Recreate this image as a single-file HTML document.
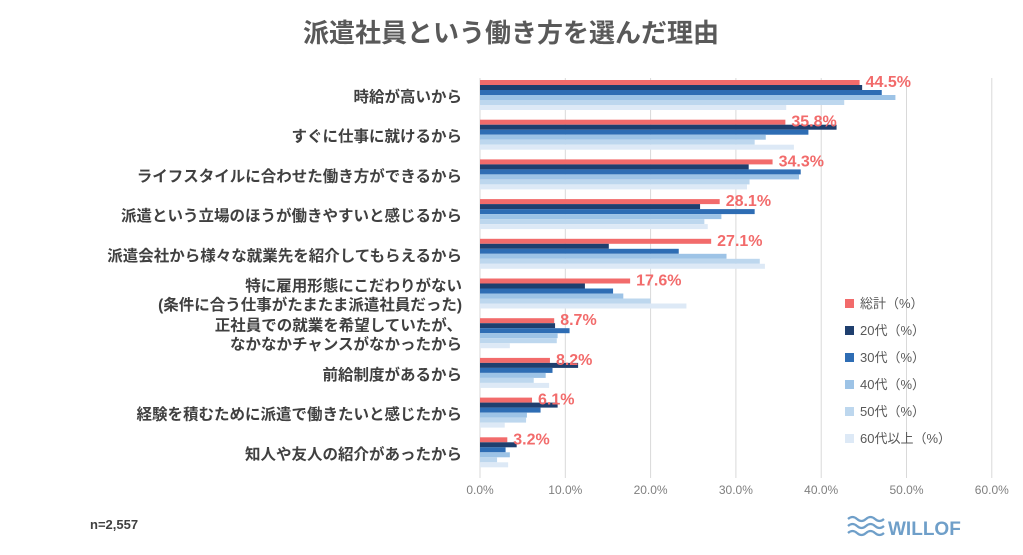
<!DOCTYPE html>
<html><head><meta charset="utf-8"><style>
body{margin:0;width:1023px;height:550px;background:#fff;overflow:hidden;font-family:"Liberation Sans","Noto Sans CJK JP",sans-serif}
</style></head><body>
<svg id="c" width="1023" height="550" xmlns="http://www.w3.org/2000/svg"></svg>
<script>
const categories=["時給が高いから","すぐに仕事に就けるから","ライフスタイルに合わせた働き方ができるから","派遣という立場のほうが働きやすいと感じるから","派遣会社から様々な就業先を紹介してもらえるから","特に雇用形態にこだわりがない|(条件に合う仕事がたまたま派遣社員だった)","正社員での就業を希望していたが、|なかなかチャンスがなかったから","前給制度があるから","経験を積むために派遣で働きたいと感じたから","知人や友人の紹介があったから"];
const seriesNames=["総計（%）","20代（%）","30代（%）","40代（%）","50代（%）","60代以上（%）"];
const total=[44.5,35.8,34.3,28.1,27.1,17.6,8.7,8.2,6.1,3.2];
const age20=[44.8,41.8,31.5,25.8,15.1,12.3,8.8,11.5,9.1,4.3];
const age30=[47.1,38.5,37.6,32.2,23.3,15.6,10.5,8.5,7.1,3.0];
const age40=[48.7,33.5,37.4,28.3,28.9,16.8,9.1,7.7,5.5,3.5];
const age50=[42.7,32.2,31.6,26.3,32.8,20.0,9.0,6.3,5.4,2.0];
const age60=[35.9,36.8,31.3,26.7,33.4,24.2,3.5,8.1,2.9,3.3];
const ticks=[0,10,20,30,40,50,60];
const series=[total,age20,age30,age40,age50,age60];
const colors=["#f26b6b","#1f3f6e","#2e6db4","#9dc3e6","#bdd7ee","#dde9f6"];
const NS="http://www.w3.org/2000/svg",svg=document.getElementById('c');
const X=v=>480+v*8.53, Y=i=>80+i*39.7;
function mk(t,a,txt){const e=document.createElementNS(NS,t);for(const k in a)e.setAttribute(k,a[k]);if(txt!=null)e.textContent=txt;svg.appendChild(e);return e;}
let e=mk('text',{x:511,y:42,'text-anchor':'middle','font-size':26,'font-weight':'bold',fill:'#595959'},'派遣社員という働き方を選んだ理由');

ticks.forEach(t=>{let g=mk('line',{x1:X(t),x2:X(t),y1:78,y2:478,stroke:'#d9d9d9','stroke-width':1});

let l=mk('text',{x:X(t),y:494,'text-anchor':'middle','font-size':12,fill:'#7f7f7f'},t.toFixed(1)+'%');
});
categories.forEach((c,i)=>{const lines=c.split('|');const cy=Y(i)+17;
lines.forEach((ln,j)=>{let t=mk('text',{x:462,y:cy+5+(j-(lines.length-1)/2)*19,'text-anchor':'end','font-size':15.5,'font-weight':'bold',fill:'#404040'},ln);
});
series.forEach((s,k)=>{let r=mk('rect',{x:480,y:Y(i)+k*5,width:Math.max(0,X(s[i])-480),height:5,fill:colors[k]});
});
let v=mk('text',{x:X(total[i])+6,y:Y(i)+7,'font-size':16,'font-weight':'bold',fill:'#f26b6b'},total[i].toFixed(1)+'%');
});
seriesNames.forEach((n,k)=>{const y=304+k*27;
let r=mk('rect',{x:845,y:y-5,width:9,height:9,fill:colors[k]});
let t=mk('text',{x:860,y:y+4,'font-size':13,fill:'#595959'},n);});
e=mk('text',{x:90,y:529,'font-size':13,'font-weight':'bold',fill:'#404040'},'n=2,557');
for(let j=0;j<3;j++){let p=mk('path',{d:`M848 ${519+j*7} q4.5 -4 9 0 t9 0 t9 0 t9 0`,fill:'none',stroke:'#6f9fc9','stroke-width':2.2});}
e=mk('text',{x:888,y:535,'font-size':19,'font-weight':'bold',fill:'#6f9fc9'},'WILLOF');
</script></body></html>
